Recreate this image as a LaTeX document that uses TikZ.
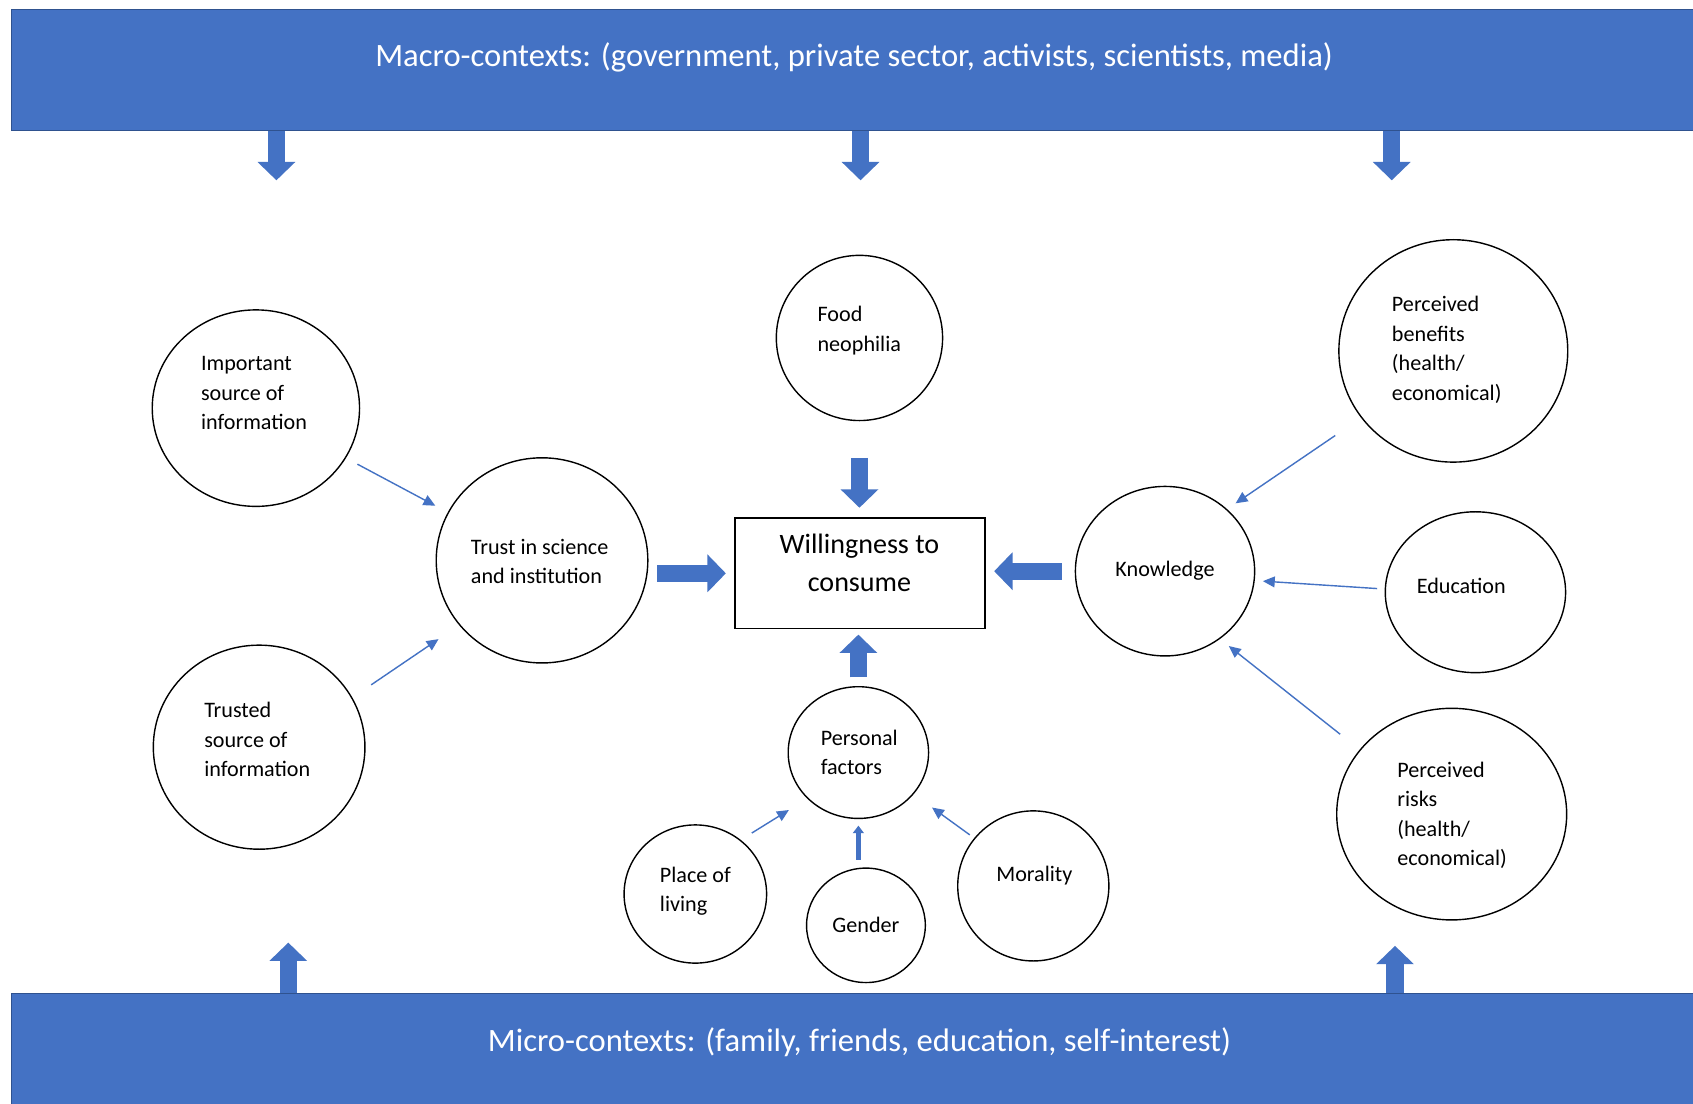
\documentclass[tikz,border=0pt]{standalone}
\usepackage{fontspec}
\setmainfont{Carlito}
\usetikzlibrary{arrows.meta,shapes.geometric,calc}
\definecolor{officeblue}{HTML}{4472C4}
\definecolor{officeedge}{HTML}{2F528F}
\begin{document}
\begin{tikzpicture}[x=1pt,y=-1pt,
  bubble/.style={ellipse, draw=black, line width=1.3pt, inner sep=0pt},
  lbl/.style={inner sep=0pt, align=left, font=\fontsize{20.5}{27.3}\selectfont},
  band/.style={draw=officeedge, line width=1pt, fill=officeblue, inner sep=0pt, anchor=north west},
  bandtext/.style={text=white, inner sep=0pt, font=\fontsize{30.2}{36}\selectfont},
  blk/.style={draw=officeblue, line width=16pt, -{Triangle[length=17pt,width=34pt]}},
  minorblk/.style={draw=officeblue, line width=5pt, -{Triangle[length=7pt,width=10pt]}},
  link/.style={draw=officeblue, line width=1.3pt, -{Triangle[length=11pt,width=10pt]}},
]
\path[use as bounding box, fill=white] (0,0) rectangle (1568,1022);

% context bands
\node[band, minimum width=1562pt, minimum height=112pt] (macro) at (10,8) {};
\node[bandtext] (macro-t) at (791,53) {Macro-contexts: (government, private sector, activists, scientists, media)};
\node[band, minimum width=1562pt, minimum height=106pt] (micro) at (10,920) {};
\node[bandtext] (micro-t) at (796,965) {Micro-contexts: (family, friends, education, self-interest)};

% factor bubbles
\node[bubble, minimum width=192pt, minimum height=182pt] (imp) at (237,378) {};
\node[bubble, minimum width=196pt, minimum height=190pt] (trust) at (502,519) {};
\node[bubble, minimum width=196pt, minimum height=189pt] (trusted) at (240,692) {};
\node[bubble, minimum width=154pt, minimum height=153pt] (food) at (796,313) {};
\node[bubble, minimum width=166pt, minimum height=157pt] (know) at (1079,529) {};
\node[bubble, minimum width=212pt, minimum height=206pt] (ben) at (1346,325) {};
\node[bubble, minimum width=167pt, minimum height=149pt] (edu) at (1366.5,548.5) {};
\node[bubble, minimum width=213pt, minimum height=196pt] (risk) at (1344.5,754) {};
\node[bubble, minimum width=130pt, minimum height=122pt] (pers) at (795,697) {};
\node[bubble, minimum width=132pt, minimum height=128pt] (place) at (644,828) {};
\node[bubble, minimum width=110pt, minimum height=106pt] (gender) at (802,857) {};
\node[bubble, minimum width=140pt, minimum height=139pt] (moral) at (957,820.5) {};

% central outcome
\node[draw=black, line width=1.5pt, minimum width=231pt, minimum height=102pt, inner sep=0pt] (will) at (796.5,531) {};
\node[inner sep=0pt, align=center, font=\fontsize{26}{35}\selectfont] (will-t) at (796,521) {Willingness to\\consume};

% bubble texts
\node[lbl, anchor=west] (imp-t) at (186,364) {Important\\source of\\information};
\node[lbl, anchor=west] (trust-t) at (436,520) {Trust in science\\and institution};
\node[lbl, anchor=west] (trusted-t) at (189,685) {Trusted\\source of\\information};
\node[lbl, anchor=west] (food-t) at (757,306) {Food\\neophilia};
\node[lbl] (know-t) at (1079,529) {Knowledge};
\node[lbl, anchor=west] (ben-t) at (1289,324) {Perceived\\benefits\\(health/\\economical)};
\node[lbl, anchor=west] (edu-t) at (1312,543) {Education};
\node[lbl, anchor=west] (risk-t) at (1294,755) {Perceived\\risks\\(health/\\economical)};
\node[lbl, anchor=west] (pers-t) at (760,697) {Personal\\factors};
\node[lbl, anchor=west] (place-t) at (611,825.5) {Place of\\living};
\node[lbl] (gender-t) at (802,857) {Gender};
\node[lbl] (moral-t) at (958,811) {Morality};

% influence from the context bands
\coordinate (m1) at (256,167);
\coordinate (m2) at (797,167);
\coordinate (m3) at (1289,167);
\coordinate (u1) at (267,873);
\coordinate (u2) at (1292,876);
\draw[blk] (macro.south -| m1) -- (m1);
\draw[blk] (macro.south -| m2) -- (m2);
\draw[blk] (macro.south -| m3) -- (m3);
\draw[blk] (micro.north -| u1) -- (u1);
\draw[blk] (micro.north -| u2) -- (u2);

% main drivers of willingness
\draw[blk, shorten <=34pt, shorten >=9pt] (food.south) -- (food.south |- will.north);
\draw[blk, shorten <=8pt, shorten >=8pt] (trust.east |- will.west) -- (will.west);
\draw[blk, shorten <=12pt, shorten >=8pt] (know.west) -- (will.east |- know.west);
\draw[blk, shorten <=8pt, shorten >=5pt] (pers.north) -- (will.south -| pers.north);
\draw[minorblk, shorten <=7pt, shorten >=6pt] (pers.south |- gender.north) -- (pers.south);

% secondary influences
\draw[link, shorten <=12pt, shorten >=13pt] (imp.-29) -- (trust.153);
\draw[link, shorten <=21pt, shorten >=23pt] (trusted.28) -- (trust.218);
\draw[link, shorten <=29pt, shorten >=9.5pt] (ben.216) -- (know.45);
\draw[link, shorten <=7pt, shorten >=7.5pt] (edu.178) -- (know.-6);
\draw[link, shorten <=23pt, shorten >=10.5pt] (risk.145) -- (know.-51);
\draw[link, shorten <=12pt, shorten >=20pt] (place.50) -- (pers.222);
\draw[link, shorten <=5pt, shorten >=21pt] (moral.141) -- (pers.-37);
\end{tikzpicture}
\end{document}
